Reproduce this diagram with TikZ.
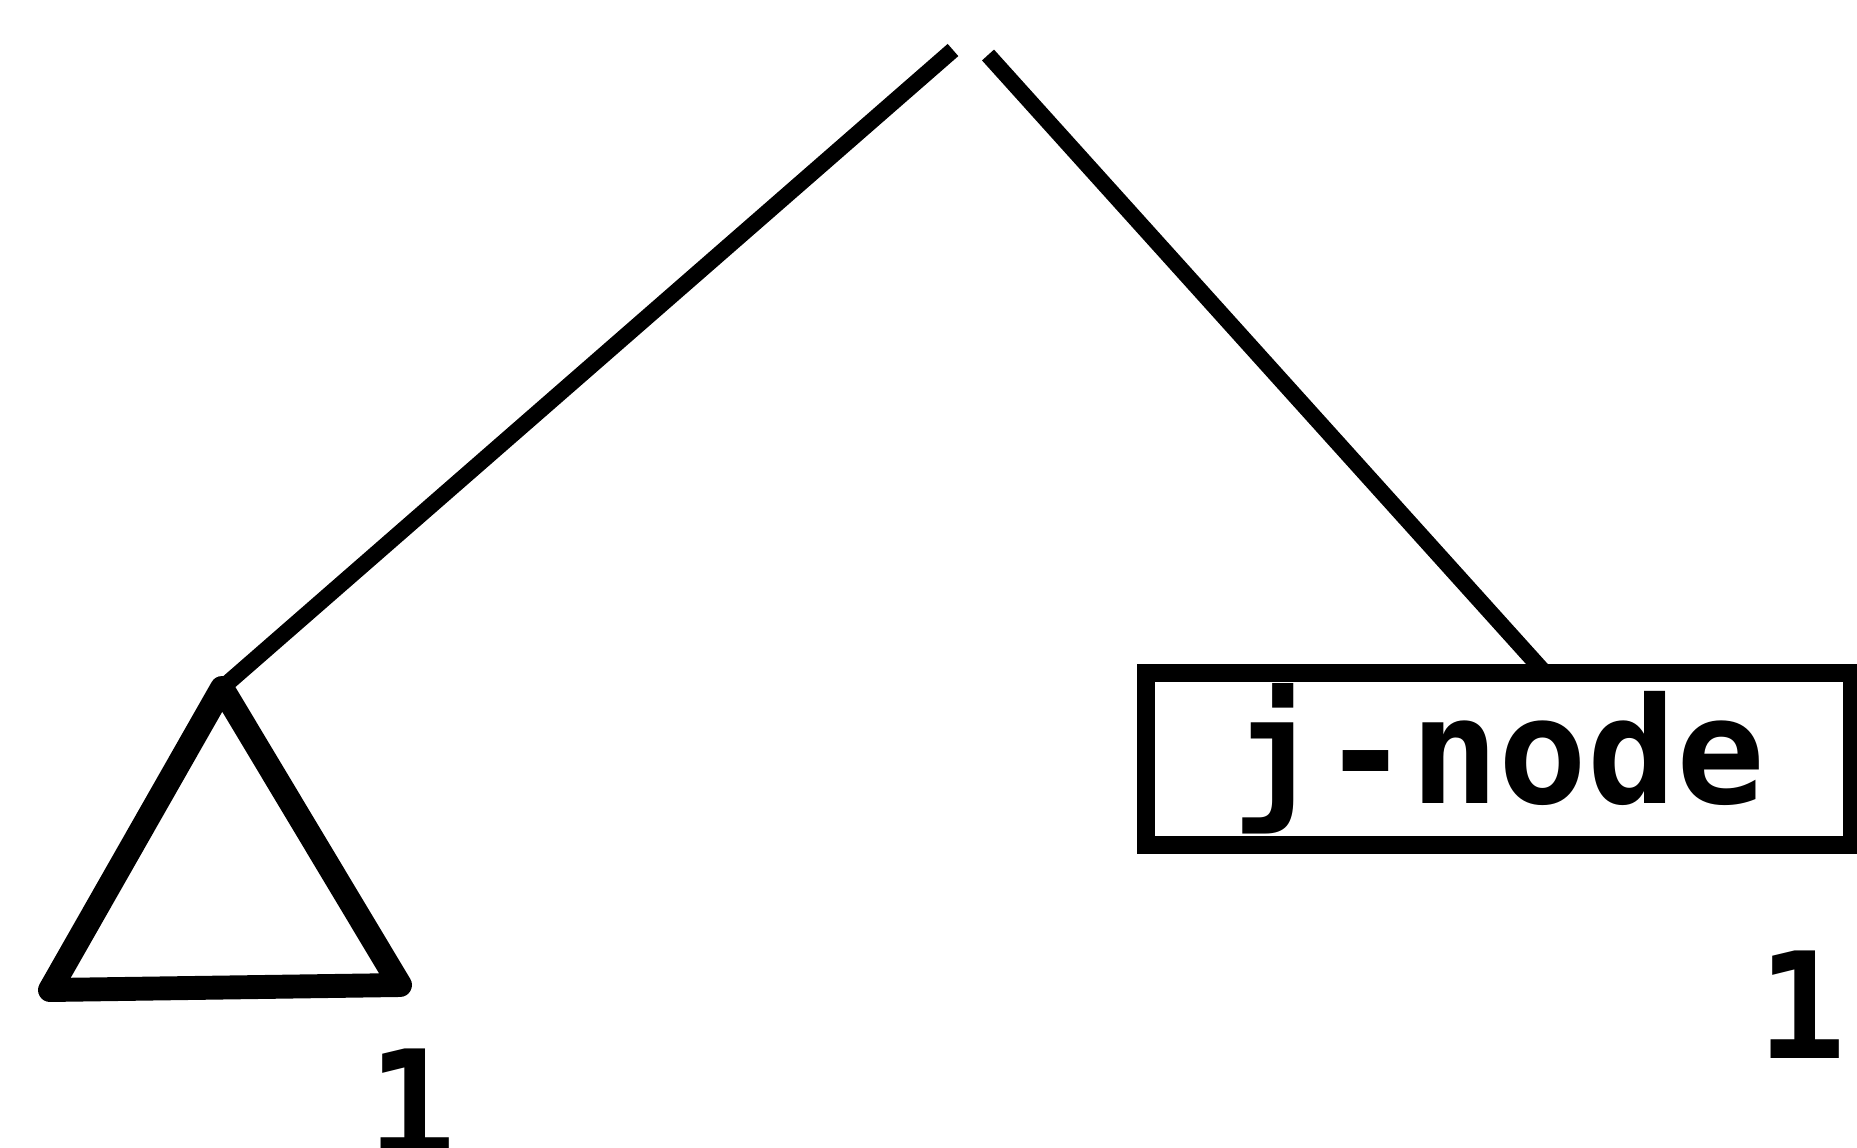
\documentclass[tikz,border=0pt]{standalone}
\usepackage{fontspec}
\setmonofont{DejaVu Sans Mono}
\usetikzlibrary{positioning}

\begin{document}
\begin{tikzpicture}[
  x=0.1mm, y=-0.1mm,
  jbox/.style={draw, line width=5pt, outer sep=0pt, inner sep=0pt, minimum width=70.6mm, minimum height=17.2mm, font=\ttfamily\bfseries\fontsize{42}{48}\selectfont},
  count/.style={font=\ttfamily\bfseries\fontsize{42}{48}\selectfont, anchor=base, inner sep=0pt},
  branch/.style={line width=4.6pt},
  subtree/.style={line width=6.8pt, line join=round}
]
\useasboundingbox (0,0) rectangle (1857,1147);

\coordinate (rootl) at (953,50);
\coordinate (rootr) at (988,55);
\coordinate (apex) at (222,688);
\coordinate (trileft) at (50,990);
\coordinate (triright) at (400,985);

\node[jbox] (jnode) at (1499,759) {j-node};
\node[count] (cntl) at (412,1156) {1};
\node[count] (cntr) at (1802,1058) {1};

\draw[branch] (rootl) -- (apex);
\draw[branch] (rootr) -- ([xshift=4.6mm]jnode.north);
\draw[subtree] (apex) -- (trileft) -- (triright) -- cycle;
\end{tikzpicture}
\end{document}
